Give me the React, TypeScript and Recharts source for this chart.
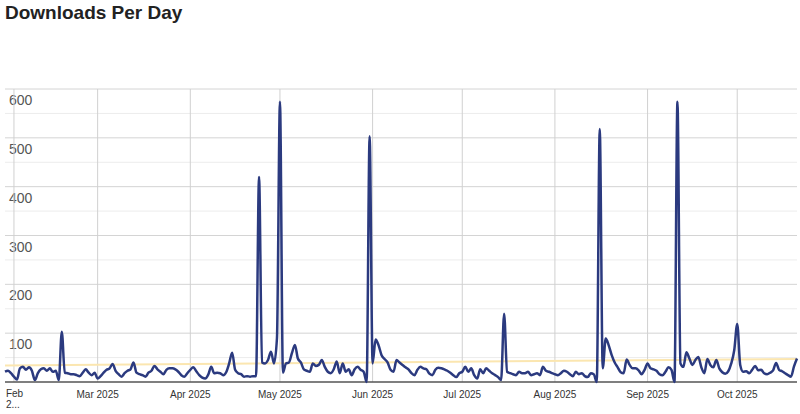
import React from 'react';
import { LineChart, Line, XAxis, YAxis, ReferenceLine } from 'recharts';

// daily downloads, Jan 29 2025 .. Oct 21 2025
const janTail = [21, 23, 18];
const feb = [11, 5, 28, 31, 25, 30, 23, 4, 18, 26, 28, 23, 28, 21, 23, 4, 103, 19, 18, 16, 16, 14, 12, 19, 26, 19, 14, 19];
const mar = [7, 12, 19, 25, 28, 37, 23, 16, 11, 18, 23, 26, 40, 19, 16, 14, 11, 19, 23, 33, 26, 21, 16, 25, 28, 28, 26, 21, 14, 11, 18];
const apr = [25, 30, 22, 14, 9, 7, 15, 31, 18, 19, 18, 14, 20, 38, 60, 25, 18, 16, 11, 12, 11, 12, 12, 420, 40, 38, 45, 62, 38, 90];
const may = [574, 19, 38, 40, 59, 76, 48, 40, 26, 23, 21, 38, 33, 35, 45, 31, 21, 18, 26, 42, 18, 38, 21, 26, 14, 26, 31, 25, 21, 0, 503];
const jun = [38, 87, 75, 55, 47, 40, 25, 21, 45, 40, 35, 30, 26, 18, 14, 25, 31, 28, 26, 17, 14, 25, 29, 28, 26, 23, 19, 14, 10, 18];
const jul = [21, 31, 21, 28, 14, 7, 26, 18, 28, 23, 18, 14, 10, 4, 140, 21, 18, 16, 14, 21, 18, 18, 21, 14, 16, 18, 14, 31, 23, 21, 18];
const aug = [16, 14, 18, 23, 21, 16, 12, 21, 16, 18, 12, 10, 18, 16, 0, 518, 28, 89, 75, 55, 40, 30, 20, 18, 46, 35, 28, 28, 24, 16, 25];
const sep = [38, 28, 26, 23, 16, 14, 21, 30, 25, 0, 574, 38, 31, 61, 48, 35, 45, 51, 30, 18, 47, 35, 30, 45, 28, 20, 17, 22, 38, 65];
const oct = [119, 35, 21, 22, 18, 25, 33, 24, 25, 18, 16, 19, 24, 39, 25, 22, 18, 14, 11, 32, 48];

const downloads = [...janTail, ...feb, ...mar, ...apr, ...may, ...jun, ...jul, ...aug, ...sep, ...oct];

// month starts as day offsets from Jan 29
const monthTicks = [3, 31, 62, 92, 123, 153, 184, 215, 245];
const monthLabels = ['Feb 2025', 'Mar 2025', 'Apr 2025', 'May 2025', 'Jun 2025', 'Jul 2025', 'Aug 2025', 'Sep 2025', 'Oct 2025'];

const majorLines = [100, 200, 300, 400, 500, 600];
const minorLines = [50, 150, 250, 350, 450, 550];

// trend line start / end values
const trendStart = 34;
const trendEnd = 47;

const data = downloads.map((value, day) => ({ day, value }));
const lastDay = downloads.length - 1;

const FONT = 'Liberation Sans, Arial, sans-serif';

const XTick = (props: any) => {
    const { x, y, payload, index } = props;
    const label = monthLabels[monthTicks.indexOf(payload.value)] || '';
    if (index === 0) {
        // first label gets cut off at the left edge
        return (
            <text x={x - 8} y={y + 15} fontSize={10} fill="#333" fontFamily={FONT}>
                <tspan x={x - 8}>{label.split(' ')[0]}</tspan>
                <tspan x={x - 8} dy={11}>2...</tspan>
            </text>
        );
    }
    return (
        <text x={x} y={y + 16} textAnchor="middle" fontSize={10} fill="#333" fontFamily={FONT}>
            {label}
        </text>
    );
};

// y labels sit just under their gridline, inside the plot
const yLabel = (v: number) => (props: any) => {
    const vb = props.viewBox || {};
    return (
        <text x={(vb.x || 0) + 4} y={(vb.y || 0) + 16} fontSize={14} fill="#555" fontFamily={FONT}>
            {v}
        </text>
    );
};

export default function App() {
    return (
        <div style={{ position: 'fixed', left: 0, top: 0, width: 800, height: 414, background: '#fff' }}>
            <div
                style={{
                    position: 'absolute',
                    left: 5,
                    top: 1,
                    fontFamily: FONT,
                    fontWeight: 'bold',
                    fontSize: 19,
                    lineHeight: '24px',
                    color: '#222',
                }}
            >
                Downloads Per Day
            </div>
            <LineChart width={800} height={414} data={data} margin={{ top: 89, right: 3, bottom: 0, left: 5 }}>
                <XAxis
                    dataKey="day"
                    type="number"
                    domain={[0, lastDay]}
                    ticks={monthTicks}
                    interval={0}
                    height={32}
                    axisLine={false}
                    tickLine={false}
                    tickSize={0}
                    tickMargin={0}
                    tick={<XTick />}
                />
                <YAxis type="number" domain={[0, 600]} ticks={[0, ...majorLines]} hide />
                {minorLines.map((v) => (
                    <ReferenceLine key={'mi' + v} y={v} stroke="#ececec" strokeWidth={1} />
                ))}
                {majorLines.map((v) => (
                    <ReferenceLine key={'ma' + v} y={v} stroke="#d4d4d4" strokeWidth={1} label={yLabel(v)} />
                ))}
                {monthTicks.map((v) => (
                    <ReferenceLine key={'v' + v} x={v} stroke="#d0d0d0" strokeWidth={1} />
                ))}
                <ReferenceLine y={0} stroke="#555" strokeWidth={1.5} />
                <ReferenceLine
                    segment={[
                        { x: 0, y: trendStart },
                        { x: lastDay, y: trendEnd },
                    ]}
                    stroke="#fbe6b0"
                    strokeWidth={2}
                />
                <Line
                    type="monotone"
                    dataKey="value"
                    stroke="#2b3a7f"
                    strokeWidth={2.5}
                    dot={false}
                    isAnimationActive={false}
                />
            </LineChart>
        </div>
    );
}
